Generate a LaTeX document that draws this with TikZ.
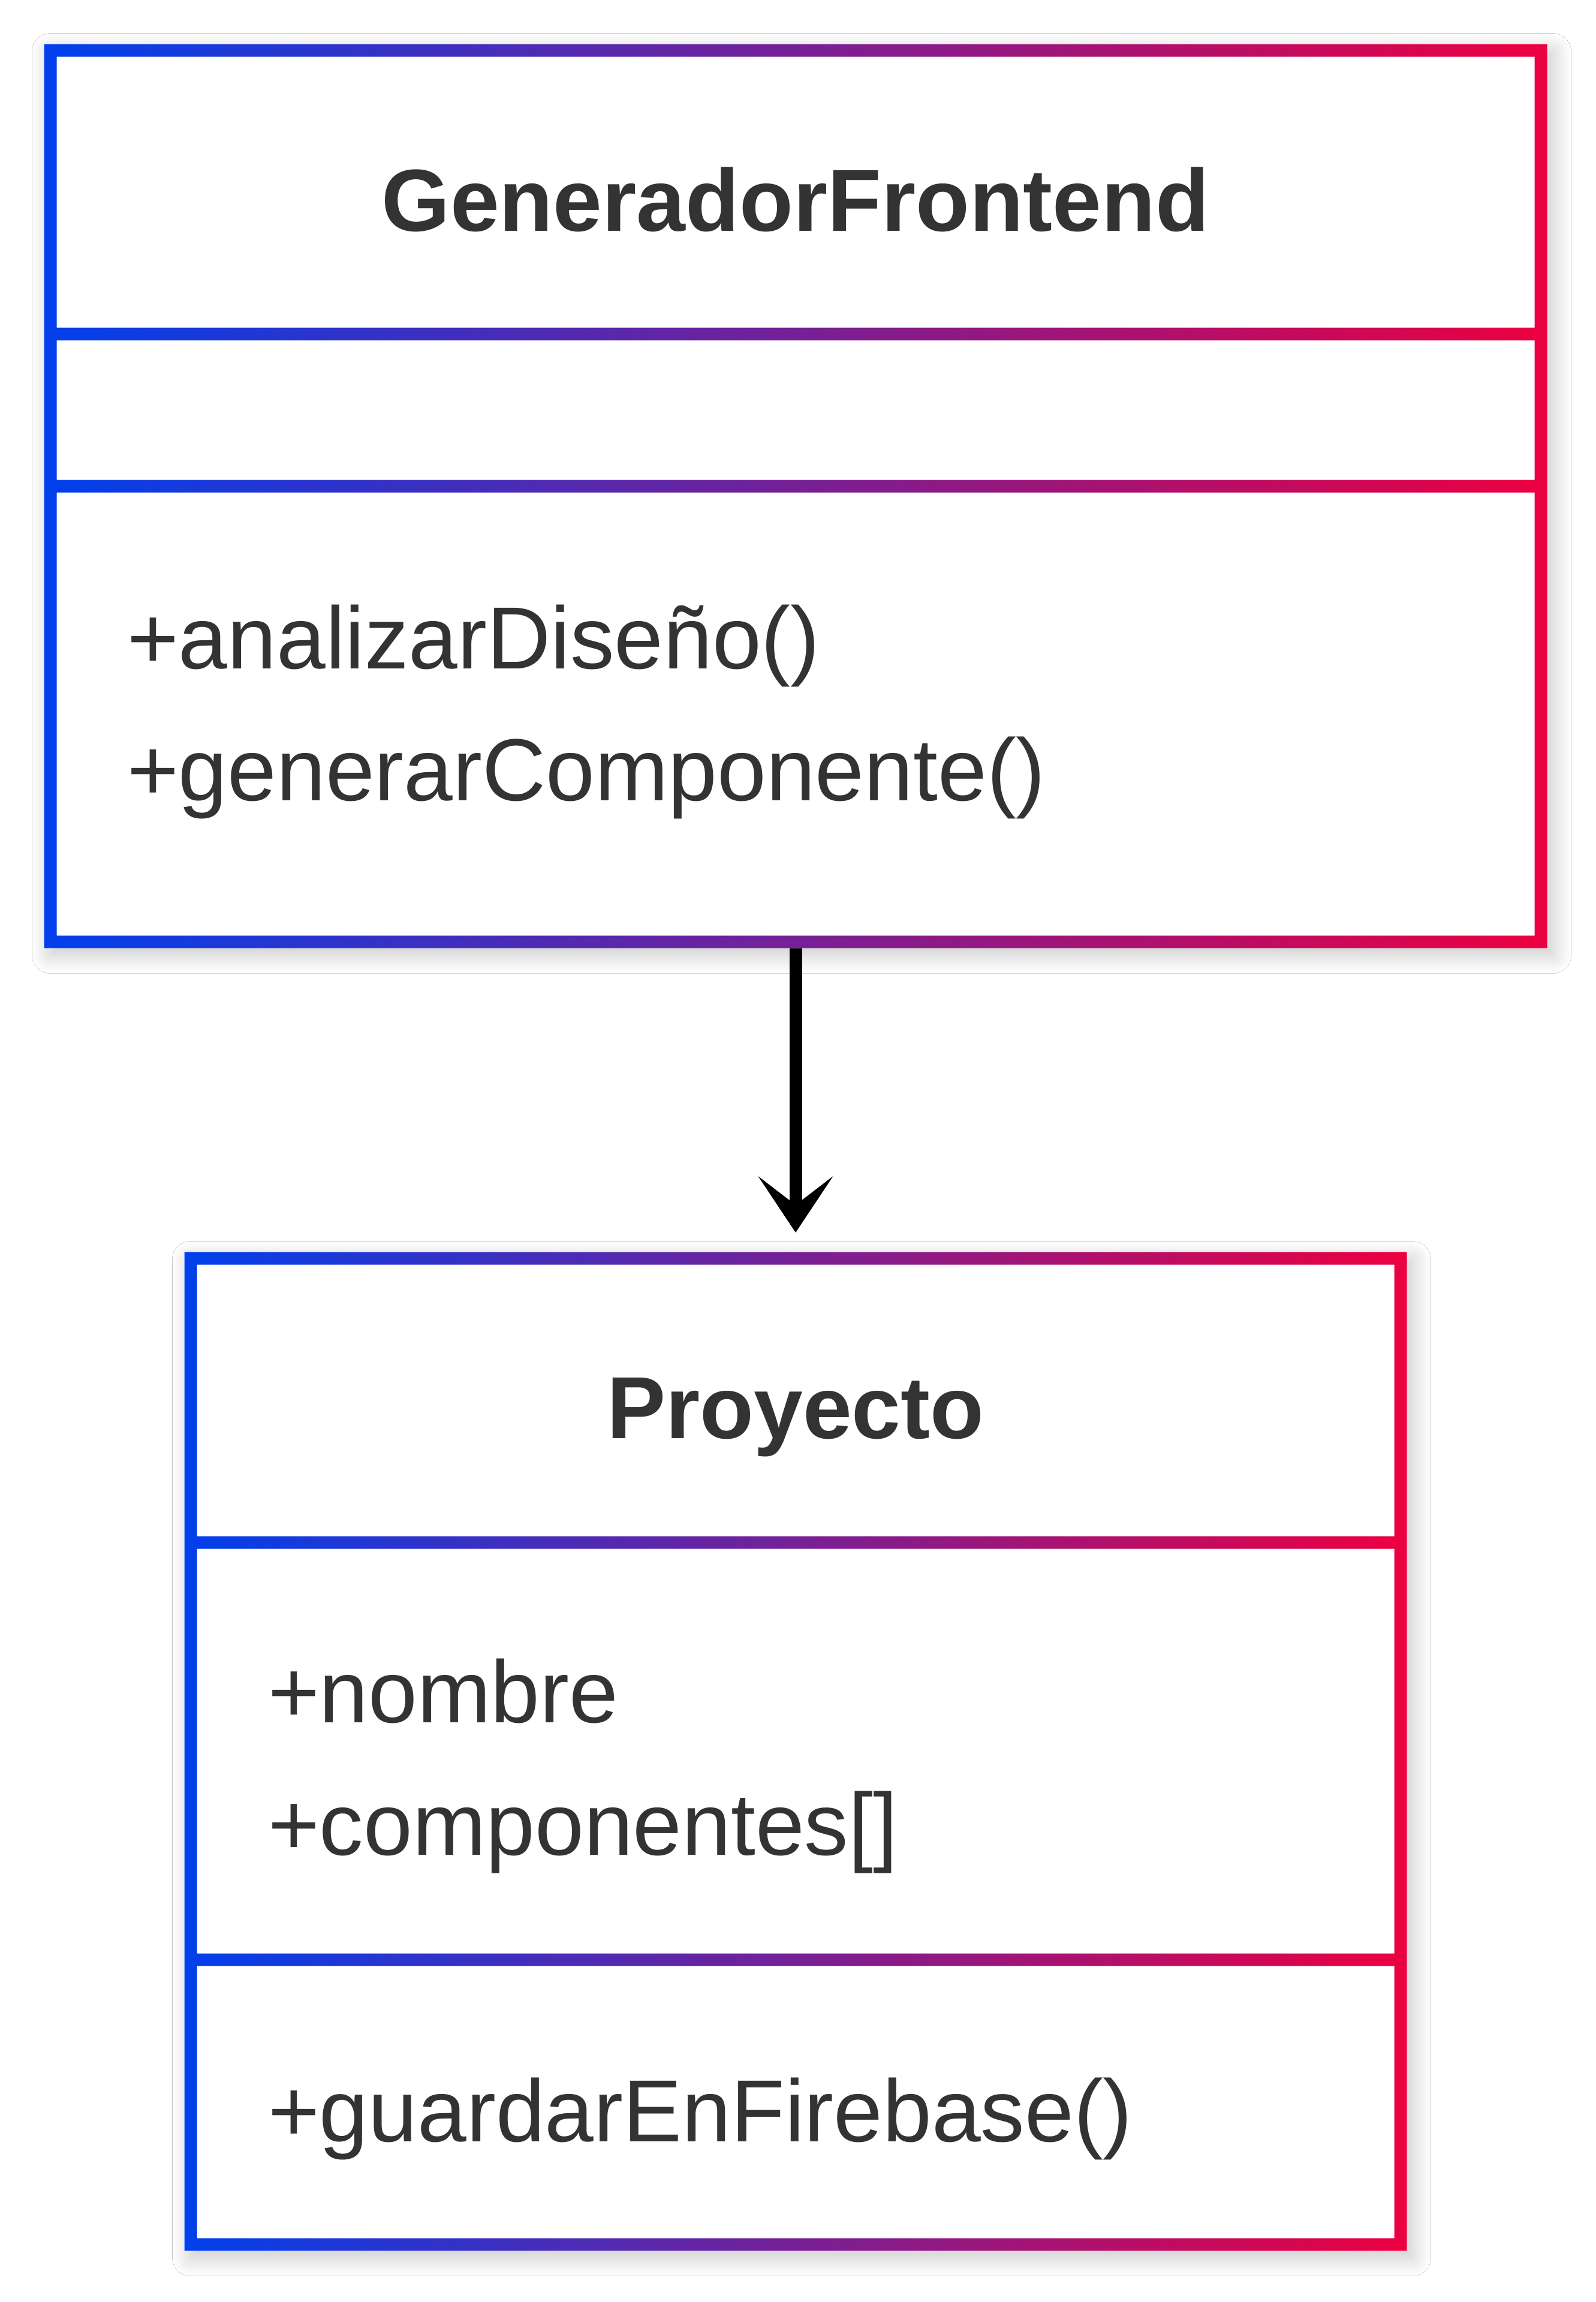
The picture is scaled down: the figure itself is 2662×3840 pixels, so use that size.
\documentclass[tikz,border=0pt]{standalone}
\usepackage{fontspec}
\setmainfont{Liberation Sans}
\usetikzlibrary{arrows.meta,shadows.blur}
\definecolor{ublue}{RGB}{0,64,236}
\definecolor{ured}{RGB}{236,0,64}
\definecolor{txt}{HTML}{333333}
\tikzset{
  umlbox/.style={rectangle, inner sep=0pt, outer sep=0pt, fill=white,
    blur shadow={shadow xshift=2pt, shadow yshift=-2.4pt, shadow blur radius=6pt, shadow blur steps=20, shadow opacity=22}},
  titletext/.style={font=\fontsize{29.4pt}{35pt}\selectfont\bfseries, text=txt, inner sep=0pt, anchor=base},
  membertext/.style={font=\fontsize{29.4pt}{35pt}\selectfont, text=txt, inner sep=0pt, anchor=base west},
  border/.style={left color=ublue, right color=ured, even odd rule},
  assoc/.style={draw=black, line width=4.2pt, -{Stealth[length=18.8pt,width=25pt,inset=9.6pt,line width=0pt]}, shorten >=6.5pt},
}
\begin{document}
\begin{tikzpicture}[x=0.2pt,y=-0.2pt]
\useasboundingbox[fill=white] (0,0) rectangle (2662,3840);

% box shapes (white fill + shadow)
\node[umlbox, minimum width=501.4pt, minimum height=301.6pt] (gen) at (1327,827.5) {};
\node[umlbox, minimum width=407.8pt, minimum height=333.2pt] (proj) at (1327,2921.5) {};

% gradient borders
\shade[border]
  (73.5,73.5) rectangle (2580.5,1581.5)
  (94.5,94.5) rectangle (2559.5,546.5)
  (94.5,567.5) rectangle (2559.5,800.5)
  (94.5,821.5) rectangle (2559.5,1560.5);
\shade[border]
  (307.5,2088.5) rectangle (2346.5,3754.5)
  (328.5,2109.5) rectangle (2325.5,2562.5)
  (328.5,2583.5) rectangle (2325.5,3258.5)
  (328.5,3279.5) rectangle (2325.5,3733.5);

% texts
\node[titletext] (genT) at (1327,385) {GeneradorFrontend};
\node[membertext] (genM1) at (211,1115) {+analizarDiseño()};
\node[membertext] (genM2) at (211,1335) {+generarComponente()};

\node[titletext] (projT) at (1327,2399) {Proyecto};
\node[membertext] (projA1) at (446,2873) {+nombre};
\node[membertext] (projA2) at (446,3094) {+componentes[]};
\node[membertext] (projM1) at (446,3572) {+guardarEnFirebase()};

% association
\draw[assoc] (gen.south) -- (proj.north);
\end{tikzpicture}
\end{document}
